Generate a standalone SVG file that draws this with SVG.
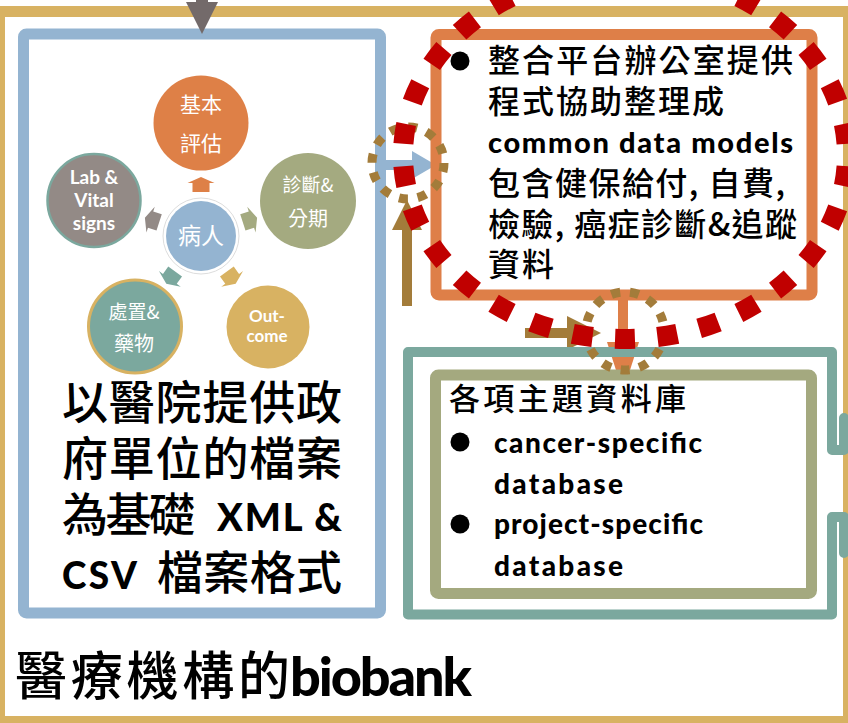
<svg xmlns="http://www.w3.org/2000/svg" width="848" height="723" viewBox="0 0 848 723">
<defs>
<style>
.cjk{font-family:"Noto Sans CJK TC","Noto Sans CJK SC",sans-serif;}
.lat{font-family:Lato,"Noto Sans CJK TC",sans-serif;font-weight:700;}
.k{fill:#000;}
.cjk.k{font-weight:500;}
.lat.k{font-weight:900;}
.w{fill:#fff;text-anchor:middle;}
.box{fill:#fff;stroke-width:11;}
.hl{fill:none;stroke:#A37C3A;stroke-width:9;stroke-dasharray:9 9.85;}
</style>
<polygon id="sa" points="0,-59 13.5,-53 8.5,-53 8.5,-44 -8.5,-44 -8.5,-53 -13.5,-53"/>
</defs>
<rect width="848" height="723" fill="#fff"/>

<g id="frame">
<rect x="-0.5" y="11.5" width="849" height="710" fill="none" stroke="#D8B262" stroke-width="11"/>
<text class="cjk k" font-size="52" x="15" y="695" textLength="275">醫療機構的</text>
<text class="lat k" font-size="54" x="290" y="696" textLength="182">biobank</text>
</g>

<g id="hospital-files">
<rect class="box" x="23.5" y="34" width="357" height="579" rx="3" stroke="#94B4D1"/>
<text class="cjk k" font-size="46" x="62" y="419" textLength="280">以醫院提供政</text>
<text class="cjk k" font-size="46" x="62" y="475" textLength="280">府單位的檔案</text>
<text class="cjk k" font-size="46" x="62" y="531" textLength="133">為基礎</text>
<text class="lat k" font-size="38" x="217" y="531" textLength="125">XML &amp;</text>
<text class="lat k" font-size="37" x="62" y="589" textLength="75">CSV</text>
<text class="cjk k" font-size="46" x="157" y="589" textLength="185">檔案格式</text>
</g>

<g id="connectors">
<polygon points="186,2 218,2 202,34" fill="#736A6A"/>
<rect x="196" y="-2" width="12" height="6" fill="#736A6A"/>
<use href="#sa" transform="translate(201,236)" fill="#DE8047"/>
<use href="#sa" transform="translate(201,236) rotate(72)" fill="#A4AA80"/>
<use href="#sa" transform="translate(201,236) rotate(144)" fill="#D8B262"/>
<use href="#sa" transform="translate(201,236) rotate(216)" fill="#7BA89E"/>
<use href="#sa" transform="translate(201,236) rotate(288)" fill="#938A86"/>
<rect x="385" y="160" width="29" height="10" fill="#94B4D1"/>
<polygon points="412,151 436,165 412,179" fill="#94B4D1"/>
<rect x="402" y="228" width="10" height="78" fill="#A37C3A"/>
<polygon points="392,230 422,230 407,200" fill="#A37C3A"/>
<rect x="525" y="328" width="45" height="10" fill="#A37C3A"/>
<polygon points="567,316 601,333 567,350" fill="#A37C3A"/>
<rect x="618" y="298" width="10" height="48" fill="#DE7F48"/>
<polygon points="607,342 639,342 623,392" fill="#DE7F48"/>
</g>

<g id="basic-eval">
<circle cx="201" cy="123" r="47.5" fill="#DE8047"/>
<text class="cjk w" font-size="21" x="201" y="112">基本</text>
<text class="cjk w" font-size="21" x="201" y="151">評估</text>
</g>
<g id="lab-vital">
<circle cx="94" cy="200.5" r="46.5" fill="#938A86" stroke="#7BA89E" stroke-width="2.5"/>
<text class="lat w" font-size="19" x="94" y="184">Lab &amp;</text>
<text class="lat w" font-size="19" x="94" y="207">Vital</text>
<text class="lat w" font-size="19" x="94" y="230">signs</text>
</g>
<g id="diagnosis">
<circle cx="308" cy="201" r="48" fill="#A4AA80"/>
<text class="cjk w" font-size="19" x="308" y="192">診斷&amp;</text>
<text class="cjk w" font-size="20" x="308" y="226">分期</text>
</g>
<g id="patient">
<circle cx="201" cy="236" r="38" fill="#fff" stroke="#ddd" stroke-width="1"/>
<circle cx="201" cy="236" r="35" fill="#94B4D1"/>
<text class="cjk w" font-size="23" x="201" y="244">病人</text>
</g>
<g id="treatment">
<circle cx="135" cy="326.5" r="46.5" fill="#7BA89E" stroke="#D8B262" stroke-width="3"/>
<text class="cjk w" font-size="19" x="134" y="319">處置&amp;</text>
<text class="cjk w" font-size="20" x="134" y="351">藥物</text>
</g>
<g id="outcome">
<circle cx="268" cy="327" r="41.5" fill="#D8B262"/>
<text class="lat w" font-size="17" x="267" y="322">Out-</text>
<text class="lat w" font-size="17" x="267" y="342">come</text>
</g>

<g id="integration-office">
<rect class="box" x="436" y="34.5" width="376" height="260.5" rx="3" stroke="#DE7F48"/>
<circle cx="460" cy="61" r="9.5" fill="#000"/>
<text class="cjk k" font-size="32" x="488" y="72" textLength="305">整合平台辦公室提供</text>
<text class="cjk k" font-size="32" x="488" y="113" textLength="236">程式協助整理成</text>
<text class="lat k" font-size="29" x="488" y="153" textLength="305">common data models</text>
<text class="cjk k" font-size="32" x="488" y="195" textLength="297">包含健保給付, 自費,</text>
<text class="cjk k" font-size="32" x="488" y="236" textLength="309">檢驗, 癌症診斷&amp;追蹤</text>
<text class="cjk k" font-size="32" x="488" y="276" textLength="66">資料</text>
</g>

<g id="outer-db">
<path d="M844,418 L844,450 L832,450 L832,352 L408,352 L408,614.5 L832,614.5 L832,517 L844,517 L844,553" fill="none" stroke="#7BA89E" stroke-width="10" stroke-linejoin="round" stroke-linecap="round"/>
</g>

<g id="topic-db">
<rect class="box" x="435.5" y="375" width="376" height="218.5" rx="3" stroke="#A4A97F"/>
<text class="cjk k" font-size="31" x="449" y="410" textLength="237">各項主題資料庫</text>
<circle cx="460" cy="442" r="9.5" fill="#000"/>
<text class="lat k" font-size="28" x="494" y="453" textLength="208">cancer-specific</text>
<text class="lat k" font-size="28" x="494" y="494" textLength="129">database</text>
<circle cx="460" cy="524" r="9.5" fill="#000"/>
<text class="lat k" font-size="28" x="494" y="534" textLength="209">project-specific</text>
<text class="lat k" font-size="28" x="494" y="576" textLength="129">database</text>
</g>

<g id="highlights">
<circle class="hl" cx="408" cy="163" r="36"/>
<circle class="hl" cx="625" cy="331" r="39"/>
<path d="M847,155 A222,184 0 0 1 403,155 A222,184 0 0 1 847,155 Z" pathLength="30" fill="none" stroke="#C00000" stroke-width="20" stroke-dasharray="0.47 0.53" stroke-dashoffset="0.735"/>
</g>
</svg>
